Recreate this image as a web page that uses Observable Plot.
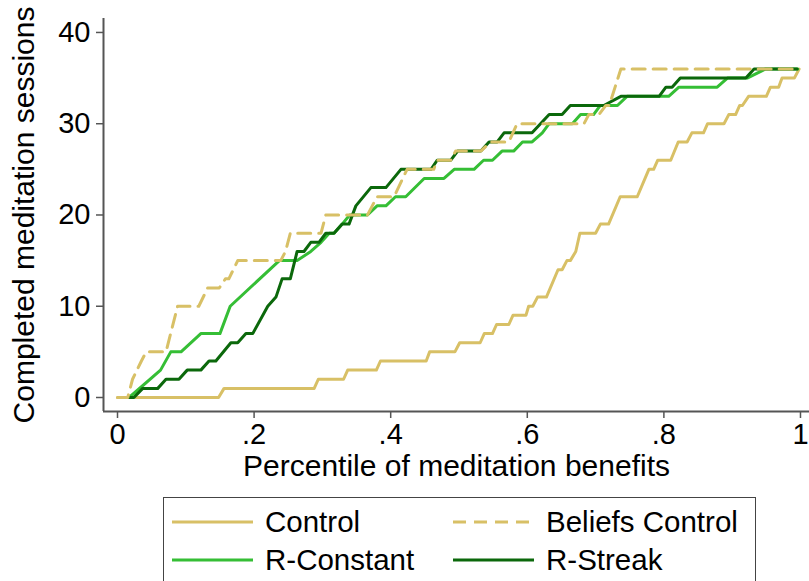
<!DOCTYPE html>
<html>
<head>
<meta charset="utf-8">
<script src="https://cdn.jsdelivr.net/npm/d3@7"></script>
<script src="https://cdn.jsdelivr.net/npm/@observablehq/plot@0.6"></script>
<style>
  html, body { margin: 0; padding: 0; background: #fff; }
  body { width: 809px; height: 581px; position: relative; overflow: hidden; font-family: "Liberation Sans", Arial, sans-serif; }
  #chart { position: absolute; left: 0; top: 0; }
  #chart svg { display: block; font-family: "Liberation Sans", Arial, sans-serif; }
  g[aria-label="x-axis label"] text, g[aria-label="y-axis label"] text { font-size: 30px; }
  #legend { position: absolute; left: 163px; top: 497px; width: 593px; height: 110px; border: 1.5px solid #444; box-sizing: border-box; background: #fff; }
  .item { position: absolute; font-size: 29.5px; color: #000; line-height: 1; white-space: nowrap; }
  .item svg { position: absolute; left: 0; top: 0; }
  .item span { position: absolute; top: 0; }
</style>
</head>
<body>
<div id="chart"></div>
<div id="legend"></div>
<script>
// ---- data ----
const seriesNames = ["Control", "Beliefs Control", "R-Constant", "R-Streak"];
const seriesColors = ["#D8C066", "#D8C066", "#35BE35", "#0B680B"];
const seriesDash = [null, "13,8", null, null];

const controlX = [0,.148,.156,.288,.294,.331,.337,.379,.385,.452,.457,.494,.501,.531,.537,.549,.555,.573,.579,.598,.602,.608,.615,.628,.645,.651,.658,.663,.671,.677,.700,.707,.719,.736,.761,.778,.785,.791,.810,.821,.834,.841,.858,.864,.888,.895,.905,.911,.915,.924,.950,.956,.968,.973,.991,.998];
const controlY = [0,0,1,1,2,2,3,3,4,4,5,5,6,6,7,7,8,8,9,9,10,10,11,11,14,14,15,15,16,18,18,19,19,22,22,25,25,26,26,28,28,29,29,30,30,31,31,32,32,33,33,34,34,35,35,36];

const beliefsX = [0,.015,.022,.035,.042,.071,.088,.119,.132,.149,.158,.163,.176,.239,.246,.253,.298,.305,.366,.380,.405,.424,.463,.468,.488,.495,.532,.546,.573,.585,.683,.690,.705,.715,.720,.737,.995];
const beliefsY = [0,0,2,4,5,5,10,10,12,12,13,13,15,15,16,18,18,20,20,22,22,25,25,26,26,27,27,28,28,30,30,31,31,32,32,36,36];

const constantX = [.017,.063,.078,.093,.122,.150,.165,.237,.263,.283,.298,.310,.317,.329,.340,.366,.380,.393,.407,.422,.449,.478,.493,.522,.536,.549,.563,.580,.593,.607,.622,.632,.666,.678,.697,.707,.732,.746,.807,.822,.878,.893,.922,.949,.996];
const constantY = [0,3,5,5,7,7,10,15,15,16,17,18,18,19,20,20,21,21,22,22,24,24,25,25,26,26,27,27,28,28,29,30,30,31,31,32,32,33,33,34,34,35,35,36,36];

const streakX = [.017,.024,.037,.059,.071,.090,.102,.122,.134,.144,.166,.176,.188,.198,.220,.232,.241,.253,.263,.273,.283,.295,.305,.317,.329,.339,.349,.371,.393,.415,.459,.468,.488,.498,.532,.544,.556,.566,.607,.632,.651,.663,.712,.737,.793,.803,.812,.824,.920,.932,.995];
const streakY = [0,0,1,1,2,2,3,3,4,4,6,6,7,7,10,11,13,13,16,16,17,17,18,18,19,19,21,23,23,25,25,26,26,27,27,28,28,29,29,31,31,32,32,33,33,34,34,35,35,36,36];

const xTicks = [0, .2, .4, .6, .8, 1];
const xTickLabels = ["0", ".2", ".4", ".6", ".8", "1"];
const yTicks = [0, 10, 20, 30, 40];

// ---- build table ----
const toRows = (xs, ys, name) => xs.map((x, i) => ({x, y: ys[i], s: name}));
const rows = [
  toRows(controlX, controlY, "Control"),
  toRows(beliefsX, beliefsY, "Beliefs Control"),
  toRows(constantX, constantY, "R-Constant"),
  toRows(streakX, streakY, "R-Streak")
];

const xMin = -0.0205, xMax = 1.0132, yMin = -1.534, yMax = 41.53;
const axisColor = "#555";

const lineMark = (i) => Plot.line(rows[i], {
  x: "x", y: "y", stroke: seriesColors[i], strokeWidth: 3,
  strokeDasharray: seriesDash[i] || undefined, curve: "linear"
});

const chart = Plot.plot({
  width: 809,
  height: 490,
  marginLeft: 103,
  marginRight: 0,
  marginTop: 18,
  marginBottom: 79,
  style: {fontFamily: '"Liberation Sans", Arial, sans-serif', color: "#000", background: "transparent"},
  x: {domain: [xMin, xMax]},
  y: {domain: [yMin, yMax]},
  marks: [
    Plot.axisX({
      ticks: xTicks,
      tickFormat: (d) => xTickLabels[xTicks.indexOf(d)],
      tickSize: 7, tickPadding: 5, fontSize: 29, stroke: axisColor, strokeWidth: 1.5,
      label: "Percentile of meditation benefits", labelAnchor: "center", labelOffset: 64, labelArrow: "none"
    }),
    Plot.axisY({
      ticks: yTicks,
      tickSize: 7, tickPadding: 6, fontSize: 29, stroke: axisColor, strokeWidth: 1.5,
      label: "Completed meditation sessions", labelAnchor: "center", labelOffset: 91, labelArrow: "none"
    }),
    Plot.ruleX([xMin], {stroke: axisColor, strokeWidth: 2}),
    Plot.ruleY([yMin], {stroke: axisColor, strokeWidth: 2}),
    lineMark(0),
    lineMark(2),
    lineMark(3),
    lineMark(1)
  ]
});
document.getElementById("chart").appendChild(chart);

// ---- legend ----
const legend = document.getElementById("legend");
const pos = [
  {left: 7, top: 9},
  {left: 288, top: 9},
  {left: 7, top: 47},
  {left: 288, top: 47}
];
seriesNames.forEach((name, i) => {
  const it = document.createElement("div");
  it.className = "item";
  it.style.left = pos[i].left + "px";
  it.style.top = pos[i].top + "px";
  it.style.width = "290px";
  it.style.height = "32px";
  const dash = seriesDash[i] ? ` stroke-dasharray="${seriesDash[i]}"` : "";
  it.innerHTML = `<svg width="84" height="32"><line x1="1" x2="82" y1="15" y2="15" stroke="${seriesColors[i]}" stroke-width="3"${dash}/></svg><span style="left:94px">${name}</span>`;
  legend.appendChild(it);
});
</script>
</body>
</html>
